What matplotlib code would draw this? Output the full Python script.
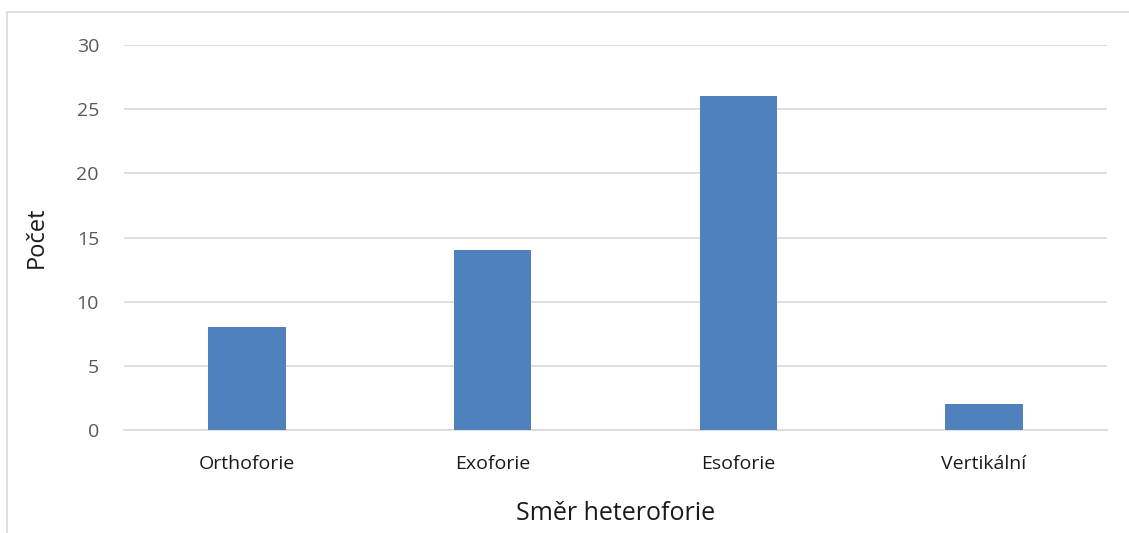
import matplotlib.pyplot as plt
from matplotlib.patches import Rectangle

categories = ['Orthoforie', 'Exoforie', 'Esoforie', 'Vertikální']
counts = [8, 14, 26, 2]
yticks = [0, 5, 10, 15, 20, 25, 30]

plt.rcParams['font.family'] = ['Open Sans', 'DejaVu Sans']

fig = plt.figure(figsize=(11.29, 5.33), dpi=100)
ax = fig.add_axes([0.1098, 0.1932, 0.8707, 0.7224])

# outer chart frame (only left and top edges are visible in the crop)
fig.patches.append(Rectangle((0.0062, -0.1), 1.2, 1.0775, transform=fig.transFigure,
                             fill=False, edgecolor='#d9d9d9', linewidth=1.2))

x = range(len(categories))
ax.bar(x, counts, width=0.315, color='#4f81bd', zorder=3)

ax.set_xlim(-0.5, len(categories) - 0.5)
ax.set_ylim(0, 30)
ax.set_yticks(yticks)
ax.set_xticks(list(x))
ax.set_xticklabels(categories, fontsize=14, color='#1a1a1a')
ax.tick_params(axis='y', labelsize=14, colors='#595959', length=0, pad=18)
ax.tick_params(axis='x', length=0, pad=18)
ax.grid(axis='y', color='#d9d9d9', linewidth=1.2, zorder=0)

for s in ['top', 'right', 'left']:
    ax.spines[s].set_visible(False)
ax.spines['bottom'].set_color('#d9d9d9')
ax.spines['bottom'].set_linewidth(1.2)

ax.set_xlabel('Směr heteroforie', fontsize=18, color='#1a1a1a', labelpad=20)
ax.set_ylabel('Počet', fontsize=17, color='#1a1a1a', labelpad=20)

plt.savefig('out.png', dpi=100)
